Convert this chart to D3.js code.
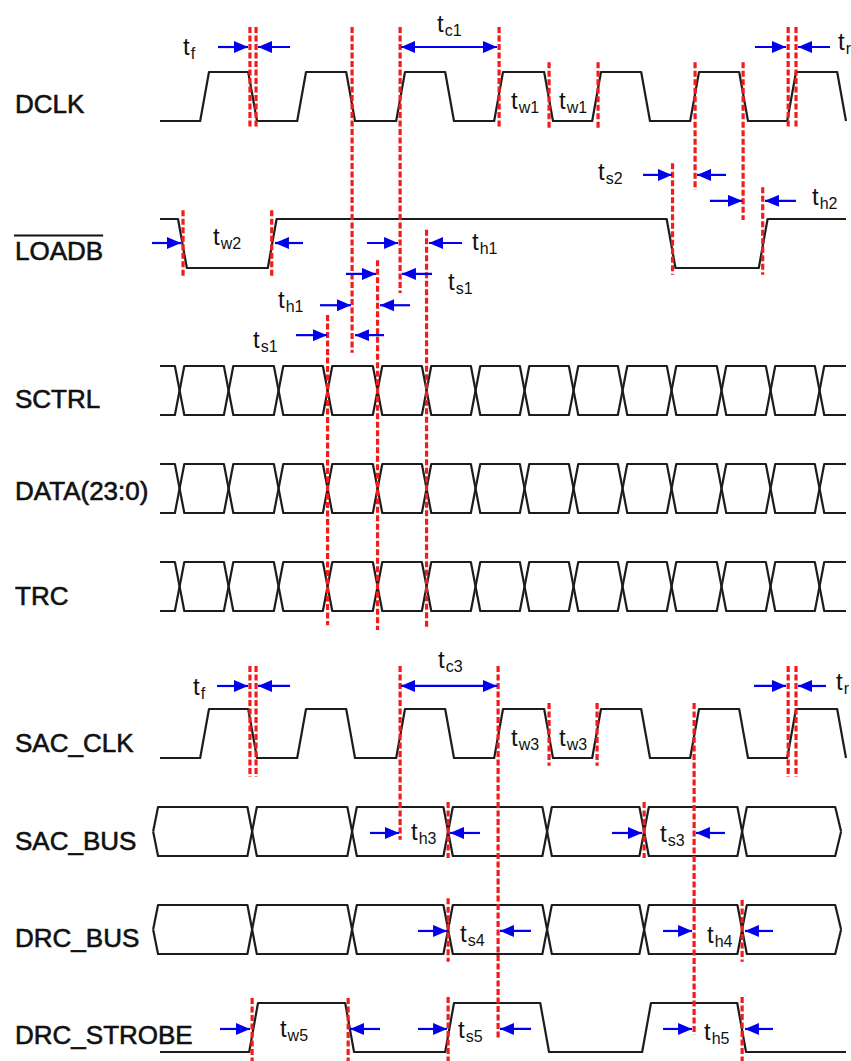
<!DOCTYPE html>
<html><head><meta charset="utf-8">
<script src="https://cdn.jsdelivr.net/npm/d3@7"></script>
<style>html,body{margin:0;padding:0;background:#fff;}svg{display:block;}</style>
</head><body><svg id="c" width="851" height="1061"></svg>
<script>
// ---------- data (time in ns-like units, rows in slot units) ----------
const signalNames = ["DCLK","LOADB","SCTRL","DATA(23:0)","TRC","SAC_CLK","SAC_BUS","DRC_BUS","DRC_STROBE"];
const signalSlots = [0,3,6,8,10,13,15,17,19];
const signalTypes = ["level","level","bus","bus","bus","level","bus2","bus2","level"];
const signalInit  = [0,1,null,null,null,0,null,null,0];
const labelBaselines = [113,260,408,500,605,752,850,947,1044];

const dclkEdges   = [4.1,9.0,14.0,19.0,24.1,29.1,34.1,39.2,44.1,49.1,54.1,59.1,64.0,69.1];
const loadbEdges  = [1.84,11.0,51.7,61.1];
const sacClkEdges = [4.1,9.0,14.0,19.0,24.1,29.1,34.1,39.2,44.1,49.1,54.1,59.1,64.0,69.1];
const strobeEdges = [9.1,18.9,29.1,38.8,49.2,58.9];
const ctrlCross   = [2.0,7.0,12.1,17.1,22.2,27.2,32.2,37.2,42.2,47.2,52.2,57.3,62.3,67.3];
const sacBusCross = [9.4,19.6,29.4,39.5,49.4,59.4];
const drcBusCross = [9.4,19.6,29.4,39.5,49.4,59.4];

// red dashed reference lines: time, top slot, bottom slot
const markerTimes = [9.18,9.8,19.6,24.5,34.6,39.7,44.7,54.6,59.5,64.1,64.9,
  2.35,11.4,52.3,61.5,17.1,22.2,27.2,
  9.18,9.8,24.5,34.5,39.7,44.6,54.5,64.1,64.9,
  29.4,49.4,29.4,59.4,9.4,19.2,29.4,59.4];
const markerTop = [-0.92,-0.92,-0.92,-0.92,-0.92,-0.2,-0.2,-0.2,-0.2,-0.92,-0.92,
  2.82,2.82,1.86,2.35,4.96,3.84,3.22,
  12.12,12.12,12.12,12.12,12.88,12.88,12.88,12.12,12.12,
  14.9,14.9,16.86,16.9,18.9,18.9,18.88,18.88];
const markerBottom = [1.14,1.14,5.73,4.51,1.14,1.14,1.14,2.41,3.02,1.14,1.14,
  4.18,4.18,4.14,4.14,11.29,11.39,11.33,
  14.39,14.39,15.67,19.71,14.16,14.16,19.65,14.39,14.39,
  16.04,16.04,18.16,18.16,20.2,20.2,20.2,20.2];

// blue arrows: tail time, tip time, slot
const arrowTail = [5.92,13.27,60.71,68.37, 49.29,57.76, 56.12,64.9,
  -0.82,14.59,21.12,30.82, 18.98,27.76, 16.33,25.51, 13.88,22.86,
  5.82,13.27,60.61,67.96, 21.43,32.65,46.12,57.65, 26.33,37.86,51.33,62.55,
  6.12,22.45,26.33,37.86,51.33,62.55];
const arrowTip = [8.98,10.0,63.88,65.1, 52.24,54.8, 59.39,61.73,
  2.14,11.73,24.29,27.45, 22.04,24.69, 19.49,22.45, 17.04,19.9,
  8.98,10.0,63.88,65.1, 24.39,29.59,49.18,54.69, 29.29,34.69,54.29,59.69,
  9.18,19.39,29.29,34.69,54.29,59.69];
const arrowSlot = [-0.51,-0.51,-0.51,-0.51, 2.10,2.10, 2.63,2.63,
  3.49,3.49,3.49,3.49, 4.12,4.12, 4.76,4.76, 5.37,5.37,
  12.53,12.53,12.53,12.53, 15.53,15.53,15.53,15.53, 17.53,17.53,17.53,17.53,
  19.53,19.53,19.53,19.53,19.53,19.53];
const cycleStart = [24.59,24.59];
const cycleEnd   = [34.39,34.39];
const cycleSlot  = [-0.51,12.53];

// timing parameter labels: subscript, time, baseline slot
const paramSub  = ["f","c1","r","w1","w1","s2","h2","w2","h1","s1","h1","s1",
  "f","c3","r","w3","w3","h3","s3","s4","h4","w5","s5","h5"];
const paramT    = [2.35,28.27,69.18,35.82,40.71,44.69,66.53,5.41,31.84,29.39,12.04,9.49,
  3.37,28.37,68.98,35.82,40.71,25.61,51.02,30.61,55.82,12.24,30.41,55.51];
const paramSlot = [-0.35,-0.82,-0.45,0.755,0.755,2.20,2.71,3.53,3.63,4.45,4.82,5.63,
  12.71,12.16,12.61,13.76,13.76,15.67,15.71,17.76,17.78,19.69,19.71,19.76];

// ---------- drawing ----------
const EDGE = 0.9, HALF = 0.48, T0 = 0, T1 = 70;
const x = d3.scaleLinear().domain([0,70]).range([160,846]);
const y = d3.scaleLinear().domain([0,20]).range([72,1052]);
const svg = d3.select("#c");
const line = d3.line().x(d=>x(d[0])).y(d=>y(d[1]));

const defs = svg.append("defs");
defs.append("marker").attr("id","ah").attr("viewBox","0 0 14 12")
  .attr("refX",14).attr("refY",6).attr("markerWidth",14).attr("markerHeight",12)
  .attr("markerUnits","userSpaceOnUse").attr("orient","auto-start-reverse")
  .append("path").attr("d","M0,0L14,6L0,12Z").attr("fill","#0000ee");

const gSig = svg.append("g").attr("fill","none").attr("stroke","#1c1c1c").attr("stroke-width",2.2).attr("stroke-linejoin","round");
const edgeSets = {0:dclkEdges,1:loadbEdges,5:sacClkEdges,8:strobeEdges};
const crossSets = {2:ctrlCross,3:ctrlCross,4:ctrlCross,6:sacBusCross,7:drcBusCross};

signalNames.forEach((name,i)=>{
  const s = signalSlots[i];
  if (signalTypes[i]==="level") {
    let lv = signalInit[i];
    const lvY = v => v ? s : s+1;
    const pts = [[T0,lvY(lv)]];
    edgeSets[i].forEach(e=>{ pts.push([e,lvY(lv)]); lv = 1-lv; pts.push([e+EDGE,lvY(lv)]); });
    pts.push([T1,lvY(lv)]);
    gSig.append("path").attr("d",line(pts));
  } else {
    const cr = crossSets[i];
    const chevron = signalTypes[i]==="bus2";
    [0,1].forEach(startHigh=>{
      let lvl = startHigh ? s : s+1;
      const pts = chevron ? [[-0.7,s+0.5],[-0.2,lvl]] : [[T0,lvl]];
      cr.forEach(c=>{ pts.push([c-HALF,lvl]); lvl = (lvl===s)? s+1 : s; pts.push([c+HALF,lvl]); });
      if (chevron) { pts.push([68.9,lvl]); pts.push([69.5,s+0.5]); }
      else pts.push([T1,lvl]);
      gSig.append("path").attr("d",line(pts));
    });
  }
  const tx = svg.append("text").attr("x",15).attr("y",labelBaselines[i])
    .attr("font-family","Liberation Sans, Arial, sans-serif").attr("font-size",26)
    .attr("fill","#111").attr("stroke","#111").attr("stroke-width",0.6).text(name);
  if (name==="LOADB") {
    const w = tx.node().getComputedTextLength();
    svg.append("line").attr("x1",14).attr("x2",15+w).attr("y1",labelBaselines[i]-24.5).attr("y2",labelBaselines[i]-24.5)
      .attr("stroke","#111").attr("stroke-width",2);
  }
});

// red dashed markers
svg.append("g").selectAll("line").data(markerTimes).join("line")
  .attr("x1",d=>x(d)).attr("x2",d=>x(d))
  .attr("y1",(d,i)=>y(markerTop[i])).attr("y2",(d,i)=>y(markerBottom[i]))
  .attr("stroke","#f21c1c").attr("stroke-width",3.2).attr("stroke-dasharray","6,2.5");

// blue arrows
const gA = svg.append("g").attr("stroke","#0000ee").attr("stroke-width",2.2);
gA.selectAll("line.a").data(arrowTail).join("line").attr("class","a")
  .attr("x1",d=>x(d)).attr("x2",(d,i)=>x(arrowTip[i]))
  .attr("y1",(d,i)=>y(arrowSlot[i])).attr("y2",(d,i)=>y(arrowSlot[i]))
  .attr("marker-end","url(#ah)");
gA.selectAll("line.c").data(cycleStart).join("line").attr("class","c")
  .attr("x1",d=>x(d)).attr("x2",(d,i)=>x(cycleEnd[i]))
  .attr("y1",(d,i)=>y(cycleSlot[i])).attr("y2",(d,i)=>y(cycleSlot[i]))
  .attr("marker-end","url(#ah)").attr("marker-start","url(#ah)");

// parameter labels
const gL = svg.append("g").attr("font-family","Liberation Sans, Arial, sans-serif").attr("fill","#111");
paramSub.forEach((sub,i)=>{
  const t = gL.append("text").attr("x",x(paramT[i])).attr("y",y(paramSlot[i])).attr("font-size",24);
  t.append("tspan").text("t");
  t.append("tspan").attr("font-size",16).attr("dy",4).attr("dx",1).text(sub);
});
</script></body></html>
